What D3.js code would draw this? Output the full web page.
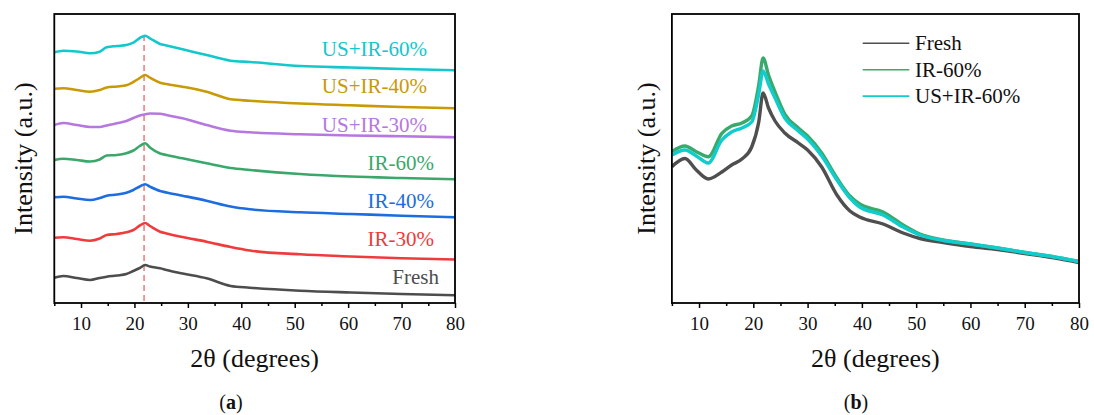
<!DOCTYPE html>
<html>
<head>
<meta charset="utf-8">
<script src="https://cdn.jsdelivr.net/npm/d3@7"></script>
<style>
  html, body { margin: 0; padding: 0; background: #fff; }
  svg { display: block; }
</style>
</head>
<body>
<svg id="fig" width="1094" height="415" font-family="Liberation Serif"></svg>
<script>
// ---------- Panel (a): stacked XRD patterns ----------
const anglesA = [5, 6.7, 9.2, 11.7, 13.5, 14.8, 16.7, 18.5, 19.8, 21, 22, 22.9, 24.8, 26, 29, 33.5, 38, 41.6, 51, 60.5, 70, 80];
const seriesNamesA = ["Fresh", "IR-30%", "IR-40%", "IR-60%", "US+IR-30%", "US+IR-40%", "US+IR-60%"];
const freshA   = [25.3, 27, 25, 23, 25, 26.3, 27.5, 29, 32, 35, 38, 36.5, 34.7, 33, 29.5, 24.7, 17, 15.3, 12.3, 10.5, 9, 7.7];
const ir30A    = [65.3, 65.7, 64, 62.3, 64.5, 68, 69, 70.7, 73, 77.5, 80, 77, 71.3, 69.5, 66, 61.3, 56, 52.5, 48.7, 46.5, 44.7, 43.5];
const ir40A    = [105.7, 106.3, 104.5, 103, 105, 107.3, 108.5, 110.3, 113, 116.5, 118.7, 116.3, 112, 110.5, 107.3, 102.3, 96.5, 93.7, 90.7, 89, 87.3, 85.8];
const ir60A    = [143, 144.3, 143, 141.5, 143.5, 147.5, 148, 149.7, 152.5, 157, 159.7, 155.5, 149.5, 148, 144.7, 139.7, 135, 133, 129, 126.5, 125, 123.7];
const usir30A  = [178, 180, 178, 176, 176, 177.5, 179.7, 182, 185, 187.5, 188.7, 189.5, 189.2, 188, 184.7, 178, 172.3, 170.7, 168.7, 167.5, 166.7, 165.8];
const usir40A  = [214.3, 214.7, 213, 211.3, 213, 215.5, 216.5, 217.7, 221, 225, 228, 225.3, 220.3, 219, 216.3, 211.3, 203.7, 202.3, 199.5, 197.7, 196, 194.7];
const usir60A  = [250.7, 252.3, 251.5, 249.7, 251.3, 255.7, 257, 258, 260.3, 265, 267.3, 264.7, 259, 257.5, 253.7, 248, 242.3, 241, 237, 235.5, 234, 232.7];
const peakAngle = 21.8;

// ---------- Panel (b): overlaid XRD patterns ----------
const anglesB = [5, 7.4, 9.5, 11.7, 14.2, 16, 17.9, 19.7, 21, 21.8, 22.8, 24, 25.8, 28.3, 30, 32.6, 35.4, 37.8, 39.6, 43.9, 47.6, 50.7, 55, 60, 65, 70, 75, 80];
const seriesNamesB = ["Fresh", "IR-60%", "US+IR-60%"];
const freshB  = [136.3, 144.5, 133, 124, 131, 138, 144, 156, 181, 210, 195, 182, 170, 160, 153, 136, 108, 92, 86, 79, 70, 64.5, 60.5, 56.5, 53.5, 49.5, 45.5, 40.5];
const ir60B   = [151.3, 157, 151.3, 146.3, 169.7, 177, 180, 187, 218, 245, 228, 211, 189, 175, 167, 150, 125, 107, 99, 91, 78, 69, 63, 59, 55, 50.5, 46.5, 41.5];
const usir60B = [148, 153, 147, 140, 163, 171, 175, 181, 209, 232, 219, 205, 185, 172, 164, 147, 123, 105, 96, 88, 76, 68, 62.5, 59, 55, 50.5, 46.5, 41.5];

// ---------- Axis ticks ----------
const majorTicks = [10, 20, 30, 40, 50, 60, 70, 80];
const minorTicks = [5, 15, 25, 35, 45, 55, 65, 75];
const xDomain = [5, 80];
const yDomain = [0, 289];

const coloursA = {
  "Fresh": "#4d4d4d", "IR-30%": "#ef3b3b", "IR-40%": "#1d6de0", "IR-60%": "#3aa86b",
  "US+IR-30%": "#b678e0", "US+IR-40%": "#c99a06", "US+IR-60%": "#12c8cc"
};
const coloursB = { "Fresh": "#4f4f4f", "IR-60%": "#3aaa6c", "US+IR-60%": "#10cccc" };

const SERIF = "Liberation Serif";
const svg = d3.select("#fig");

// Serif text, start-anchored; "middle"/"end" alignment is done by measuring the run.
function label(parent, str, x, y, size, anchor, fill) {
  const t = parent.append("text")
    .attr("font-family", SERIF).style("font-family", SERIF)
    .attr("font-size", size).attr("fill", fill || "#111")
    .attr("y", y)
    .text(str);
  const w = t.node().getComputedTextLength();
  const shift = anchor === "middle" ? w / 2 : anchor === "end" ? w : 0;
  t.attr("x", x - shift);
  return t;
}

function drawFrame(g, x, y, title, ylabelX, captionX, captionText) {
  const [x0, x1] = x.range();
  const [y0, y1] = y.range(); // y0 bottom, y1 top

  // minor ticks
  g.append("g")
    .attr("transform", `translate(0,${y0})`)
    .call(d3.axisBottom(x).tickValues(minorTicks).tickSize(3).tickFormat(""))
    .call(a => a.select(".domain").remove())
    .selectAll("line").attr("stroke", "#000").attr("stroke-width", 1.5);

  // major ticks; labels rebuilt as serif text
  const ax = g.append("g")
    .attr("transform", `translate(0,${y0})`)
    .call(d3.axisBottom(x).tickValues(majorTicks).tickSize(5).tickFormat(d3.format("d")));
  ax.attr("font-family", SERIF).attr("text-anchor", null);
  ax.select(".domain").remove();
  ax.selectAll("line").attr("stroke", "#000").attr("stroke-width", 1.5);
  ax.selectAll(".tick").each(function (d) {
    const tick = d3.select(this);
    tick.select("text").remove();
    label(tick, d3.format("d")(d), 0, 27, 19, "middle");
  });

  // frame
  g.append("rect")
    .attr("x", x0).attr("y", y1)
    .attr("width", x1 - x0).attr("height", y0 - y1)
    .attr("fill", "none").attr("stroke", "#000").attr("stroke-width", 1.8);

  // axis titles
  label(g, title, (x0 + x1) / 2, 367, 26, "middle");
  const yl = g.append("g")
    .attr("transform", `translate(${ylabelX},${(y0 + y1) / 2}) rotate(-90)`);
  label(yl, "Intensity (a.u.)", 0, 0, 26, "middle");

  // caption
  const cap = g.append("text")
    .attr("font-family", SERIF).style("font-family", SERIF)
    .attr("y", 409).attr("font-size", 20).attr("fill", "#111");
  cap.append("tspan").text("(");
  cap.append("tspan").attr("font-weight", "bold").text(captionText);
  cap.append("tspan").text(")");
  cap.attr("x", captionX - cap.node().getComputedTextLength() / 2);
}

// ----- Panel (a) -----
{
  const x = d3.scaleLinear().domain(xDomain).range([54.3, 455]);
  const y = d3.scaleLinear().domain(yDomain).range([303, 14]);
  const g = svg.append("g");
  const dataA = {
    "Fresh": freshA, "IR-30%": ir30A, "IR-40%": ir40A, "IR-60%": ir60A,
    "US+IR-30%": usir30A, "US+IR-40%": usir40A, "US+IR-60%": usir60A
  };
  const line = d3.line().x(d => x(d[0])).y(d => y(d[1])).curve(d3.curveMonotoneX);

  // reference line at the main amorphous peak
  g.append("line")
    .attr("x1", x(peakAngle)).attr("x2", x(peakAngle))
    .attr("y1", y(yDomain[1]) + 21).attr("y2", y(yDomain[0]))
    .attr("stroke", "#f27777").attr("stroke-width", 1.5)
    .attr("stroke-dasharray", "6,4");

  seriesNamesA.forEach(name => {
    const pts = anglesA.map((a, i) => [a, dataA[name][i]]);
    g.append("path")
      .attr("d", line(pts))
      .attr("fill", "none")
      .attr("stroke", coloursA[name])
      .attr("stroke-width", 2.6)
      .attr("stroke-linejoin", "round");
  });

  // in-plot series labels (right-aligned)
  const labelPos = {
    "US+IR-60%": [427, 55.5], "US+IR-40%": [427, 93.3], "US+IR-30%": [427, 131.7],
    "IR-60%": [434, 170], "IR-40%": [434, 207.7], "IR-30%": [434, 246], "Fresh": [439, 284]
  };
  seriesNamesA.forEach(name => {
    label(g, name, labelPos[name][0], labelPos[name][1], 21, "end", coloursA[name]);
  });

  drawFrame(g, x, y, "2θ (degrees)", 32, 231, "a");
}

// ----- Panel (b) -----
{
  const x = d3.scaleLinear().domain(xDomain).range([671.9, 1079]);
  const y = d3.scaleLinear().domain(yDomain).range([303, 14]);
  const g = svg.append("g");
  const dataB = { "Fresh": freshB, "IR-60%": ir60B, "US+IR-60%": usir60B };
  const line = d3.line().x(d => x(d[0])).y(d => y(d[1])).curve(d3.curveMonotoneX);

  seriesNamesB.forEach(name => {
    const pts = anglesB.map((a, i) => [a, dataB[name][i]]);
    g.append("path")
      .attr("d", line(pts))
      .attr("fill", "none")
      .attr("stroke", coloursB[name])
      .attr("stroke-width", 3.4)
      .attr("stroke-linejoin", "round");
  });

  // legend
  const legend = g.append("g");
  seriesNamesB.forEach((name, i) => {
    const ly = 43.3 + i * 26.4;
    legend.append("line")
      .attr("x1", 862.7).attr("x2", 909.3).attr("y1", ly).attr("y2", ly)
      .attr("stroke", coloursB[name]).attr("stroke-width", 1.6);
    label(legend, name, 915, ly + 7, 21, "start");
  });

  drawFrame(g, x, y, "2θ (degrees)", 655, 856, "b");
}
</script>
</body>
</html>
